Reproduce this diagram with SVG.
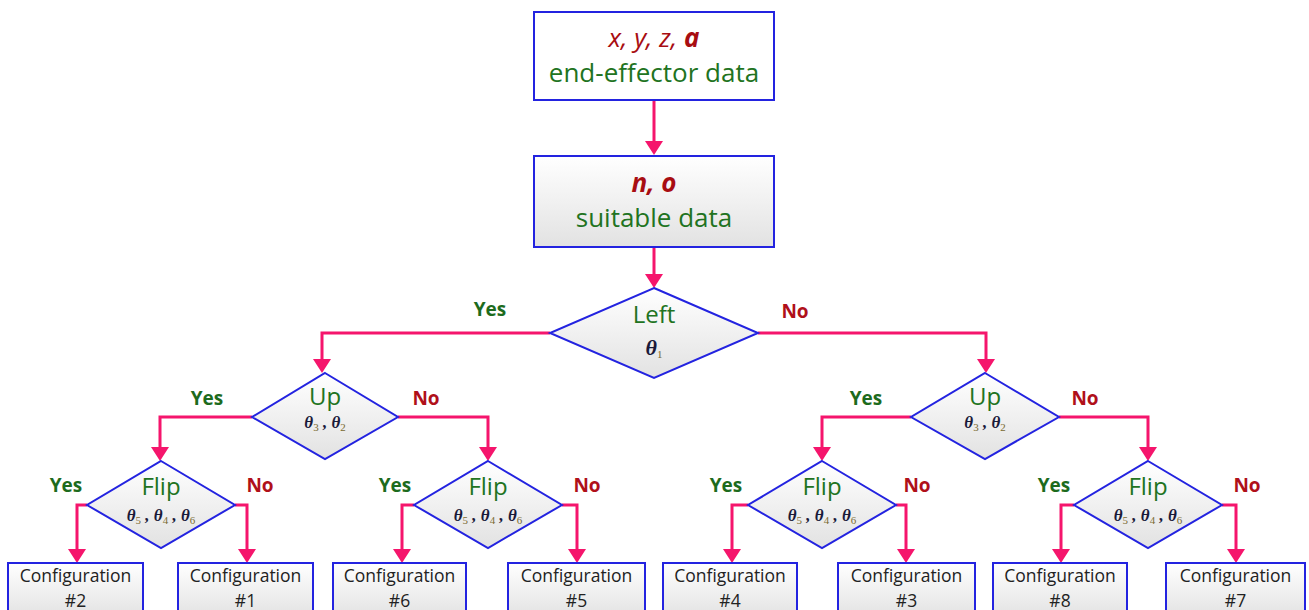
<svg xmlns="http://www.w3.org/2000/svg" width="1309" height="610" viewBox="0 0 1309 610">
<style>
.box{stroke:#2323e0;stroke-width:2;fill:url(#g)}
.wbox{stroke:#2323e0;stroke-width:2;fill:#fff}
.dia{stroke:#2323e0;stroke-width:2;fill:url(#g)}
.con{stroke:#f5156c;stroke-width:3;fill:none;marker-end:url(#ah)}
.big{font-family:"Open Sans",sans-serif;font-size:26px;fill:#217321;text-anchor:middle}
.var{font-family:"Open Sans",sans-serif;font-size:26px;fill:#a80d12;text-anchor:middle;font-style:italic}
.dec{font-family:"Open Sans",sans-serif;font-size:24px;fill:#217321;text-anchor:middle}
.th{font-family:"Liberation Serif",serif;font-style:italic;font-weight:bold;font-size:17px;fill:#1a1a3a;text-anchor:middle}
.th1{font-size:22px}
.sub{font-size:11px;font-style:normal;font-weight:normal;fill:#7a6a30}
.yes{font-family:"Open Sans",sans-serif;font-weight:bold;font-size:19px;fill:#1d6b1d;text-anchor:middle}
.no{font-family:"Open Sans",sans-serif;font-weight:bold;font-size:19px;fill:#b0101a;text-anchor:middle}
.cfg{font-family:"Open Sans",sans-serif;font-size:17.5px;fill:#222;text-anchor:middle}
</style>
<defs>
<linearGradient id="g" x1="0" y1="0" x2="0" y2="1">
<stop offset="0" stop-color="#ffffff"/>
<stop offset="1" stop-color="#e2e2e2"/>
</linearGradient>
<marker id="ah" viewBox="0 0 14 18" refX="4" refY="9" markerWidth="14" markerHeight="18" markerUnits="userSpaceOnUse" orient="auto">
<path d="M0,0 L14,9 L0,18 z" fill="#f5156c"/>
</marker>
</defs>
<rect width="1309" height="610" fill="#fff"/>

<g id="connectors">
<path class="con" d="M654,100 V145"/>
<path class="con" d="M654,247 V278"/>
<path class="con" d="M550,333 H322 V363"/>
<path class="con" d="M758,333 H986 V363"/>
<path class="con" d="M252,417 H160 V451"/>
<path class="con" d="M398,417 H488 V451"/>
<path class="con" d="M911,417 H822 V451"/>
<path class="con" d="M1059,417 H1148 V451"/>
<path class="con" d="M87,505 H77 V553"/>
<path class="con" d="M235,505 H247 V553"/>
<path class="con" d="M414,505 H402 V553"/>
<path class="con" d="M562,505 H577 V553"/>
<path class="con" d="M748,505 H732 V553"/>
<path class="con" d="M896,505 H906 V553"/>
<path class="con" d="M1074,505 H1061 V553"/>
<path class="con" d="M1222,505 H1236 V553"/>
</g>

<g id="labels">
<text class="yes" x="490" y="316">Yes</text>
<text class="no" x="795" y="318">No</text>
<text class="yes" x="207" y="405">Yes</text>
<text class="no" x="426" y="405">No</text>
<text class="yes" x="866" y="405">Yes</text>
<text class="no" x="1085" y="405">No</text>
<text class="yes" x="66" y="492">Yes</text>
<text class="no" x="260" y="492">No</text>
<text class="yes" x="395" y="492">Yes</text>
<text class="no" x="587" y="492">No</text>
<text class="yes" x="726" y="492">Yes</text>
<text class="no" x="917" y="492">No</text>
<text class="yes" x="1054" y="492">Yes</text>
<text class="no" x="1247" y="492">No</text>
</g>

<g id="input">
<rect class="wbox" x="534" y="12" width="240" height="88"/>
<text class="var" x="654" y="47">x, y, z, <tspan font-weight="bold">a</tspan></text>
<text class="big" x="654" y="82">end-effector data</text>
</g>

<g id="suitable">
<rect class="box" x="534" y="156" width="240" height="91"/>
<text class="var" x="654" y="192" font-weight="bold">n, o</text>
<text class="big" x="654" y="227">suitable data</text>
</g>

<g id="left">
<polygon class="dia" points="654,288 758,333 654,378 550,333"/>
<text class="dec" x="654" y="323">Left</text>
<text class="th th1" x="654" y="355">θ<tspan class="sub" dy="3">1</tspan></text>
</g>

<g id="up-left">
<polygon class="dia" points="325,373 398,417 325,459 252,417"/>
<text class="dec" x="325" y="405">Up</text>
<text class="th" x="325" y="428">θ<tspan class="sub" dy="3">3</tspan><tspan dy="-3"> , θ</tspan><tspan class="sub" dy="3">2</tspan></text>
</g>

<g id="up-right">
<polygon class="dia" points="985,373 1059,417 985,459 911,417"/>
<text class="dec" x="985" y="405">Up</text>
<text class="th" x="985" y="428">θ<tspan class="sub" dy="3">3</tspan><tspan dy="-3"> , θ</tspan><tspan class="sub" dy="3">2</tspan></text>
</g>

<g id="flip-1">
<polygon class="dia" points="161,461 235,505 161,548 87,505"/>
<text class="dec" x="161" y="495">Flip</text>
<text class="th" x="161" y="521">θ<tspan class="sub" dy="3">5</tspan><tspan dy="-3"> , θ</tspan><tspan class="sub" dy="3">4</tspan><tspan dy="-3"> , θ</tspan><tspan class="sub" dy="3">6</tspan></text>
</g>

<g id="flip-2">
<polygon class="dia" points="488,461 562,505 488,548 414,505"/>
<text class="dec" x="488" y="495">Flip</text>
<text class="th" x="488" y="521">θ<tspan class="sub" dy="3">5</tspan><tspan dy="-3"> , θ</tspan><tspan class="sub" dy="3">4</tspan><tspan dy="-3"> , θ</tspan><tspan class="sub" dy="3">6</tspan></text>
</g>

<g id="flip-3">
<polygon class="dia" points="822,461 896,505 822,548 748,505"/>
<text class="dec" x="822" y="495">Flip</text>
<text class="th" x="822" y="521">θ<tspan class="sub" dy="3">5</tspan><tspan dy="-3"> , θ</tspan><tspan class="sub" dy="3">4</tspan><tspan dy="-3"> , θ</tspan><tspan class="sub" dy="3">6</tspan></text>
</g>

<g id="flip-4">
<polygon class="dia" points="1148,461 1222,505 1148,548 1074,505"/>
<text class="dec" x="1148" y="495">Flip</text>
<text class="th" x="1148" y="521">θ<tspan class="sub" dy="3">5</tspan><tspan dy="-3"> , θ</tspan><tspan class="sub" dy="3">4</tspan><tspan dy="-3"> , θ</tspan><tspan class="sub" dy="3">6</tspan></text>
</g>

<g id="config-2">
<rect class="box" x="8" y="563" width="135" height="55"/>
<text class="cfg" x="75.5" y="582">Configuration</text>
<text class="cfg" x="75.5" y="607">#2</text>
</g>
<g id="config-1">
<rect class="box" x="178" y="563" width="135" height="55"/>
<text class="cfg" x="245.5" y="582">Configuration</text>
<text class="cfg" x="245.5" y="607">#1</text>
</g>
<g id="config-6">
<rect class="box" x="333" y="563" width="133" height="55"/>
<text class="cfg" x="399.5" y="582">Configuration</text>
<text class="cfg" x="399.5" y="607">#6</text>
</g>
<g id="config-5">
<rect class="box" x="508" y="563" width="137" height="55"/>
<text class="cfg" x="576.5" y="582">Configuration</text>
<text class="cfg" x="576.5" y="607">#5</text>
</g>
<g id="config-4">
<rect class="box" x="663" y="563" width="134" height="55"/>
<text class="cfg" x="730" y="582">Configuration</text>
<text class="cfg" x="730" y="607">#4</text>
</g>
<g id="config-3">
<rect class="box" x="838" y="563" width="137" height="55"/>
<text class="cfg" x="906.5" y="582">Configuration</text>
<text class="cfg" x="906.5" y="607">#3</text>
</g>
<g id="config-8">
<rect class="box" x="993" y="563" width="134" height="55"/>
<text class="cfg" x="1060" y="582">Configuration</text>
<text class="cfg" x="1060" y="607">#8</text>
</g>
<g id="config-7">
<rect class="box" x="1166" y="563" width="139" height="55"/>
<text class="cfg" x="1235.5" y="582">Configuration</text>
<text class="cfg" x="1235.5" y="607">#7</text>
</g>
</svg>
